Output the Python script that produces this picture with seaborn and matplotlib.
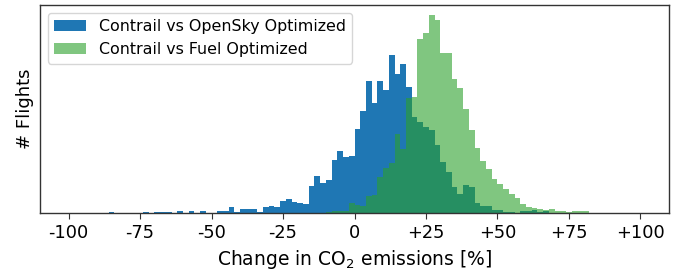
import numpy as np
import pandas as pd
import matplotlib
matplotlib.use("Agg")
import matplotlib.pyplot as plt
from matplotlib.patches import Patch
import seaborn as sns

# ── Data (flights per 2 % bin, bins start at -88 %) ─────────────
BIN_START = -88
BIN_WIDTH = 2

opensky_counts = [
    0, 5, 0, 0, 0, 0, 0, 5, 0, 5,
    5, 5, 0, 10, 0, 10, 0, 10, 2, 2,
    10, 10, 28, 5, 22, 22, 22, 5, 30, 35,
    30, 60, 72, 55, 50, 45, 135, 185, 150, 165,
    265, 310, 280, 285, 420, 510, 660, 550, 660, 615,
    790, 695, 745, 630, 480, 455, 430, 415, 340, 255,
    205, 130, 95, 140, 130, 50, 35, 35, 15, 15,
    5, 5, 2, 10, 10, 15, 5, 8, 2, 0,
    0, 0, 0, 2, 0, 0, 0, 0, 0,
]

fuel_counts = [
    0, 0, 0, 0, 0, 0, 0, 0, 0, 2,
    0, 0, 0, 0, 0, 0, 0, 0, 0, 0,
    0, 0, 0, 0, 0, 0, 0, 0, 0, 0,
    0, 0, 0, 0, 0, 0, 0, 0, 0, 5,
    8, 10, 12, 50, 40, 35, 85, 90, 180, 225,
    250, 395, 320, 575, 580, 870, 900, 990, 965, 800,
    800, 670, 625, 520, 415, 325, 260, 220, 170, 145,
    120, 95, 75, 45, 30, 25, 22, 15, 18, 10,
    8, 5, 10, 8, 10, 2, 0, 0, 2,
]

series_labels = ["Contrail vs OpenSky Optimized", "Contrail vs Fuel Optimized"]
xtick_values = [-100, -75, -50, -25, 0, 25, 50, 75, 100]
xtick_labels = ["-100", "-75", "-50", "-25", "0", "+25", "+50", "+75", "+100"]

BLUE = "#1f77b4"
GREEN = "#2ca02c"

# ── Build table ─────────────────────────────────────────────────
n_bins = len(opensky_counts)
bin_range = (BIN_START, BIN_START + BIN_WIDTH * n_bins)
centers = BIN_START + BIN_WIDTH * (np.arange(n_bins) + 0.5)
df = pd.DataFrame({"change": centers,
                   "opensky": opensky_counts,
                   "fuel": fuel_counts})

# ── Plot ────────────────────────────────────────────────────────
fig = plt.figure(figsize=(6.9, 2.8), dpi=100)
ax = fig.add_axes([40 / 690, 1 - 213 / 280, 629 / 690, 208 / 280])

sns.histplot(data=df, x="change", weights="opensky",
             binwidth=BIN_WIDTH, binrange=bin_range,
             element="step", fill=True, color=BLUE, alpha=1.0,
             linewidth=0, ax=ax)
sns.histplot(data=df, x="change", weights="fuel",
             binwidth=BIN_WIDTH, binrange=bin_range,
             element="step", fill=True, color=GREEN, alpha=0.6,
             linewidth=0, ax=ax)

ax.set_xlim(-110, 110)
ax.set_ylim(0, max(max(opensky_counts), max(fuel_counts)) * 1.05)
ax.set_xticks(xtick_values)
ax.set_xticklabels(xtick_labels)
ax.tick_params(axis="x", labelsize=12.8, length=4.5, color="0.2")
ax.set_yticks([])
ax.set_xlabel("Change in CO$_2$ emissions [%]", fontsize=13.5)
ax.set_ylabel("# Flights", fontsize=13)
for sp in ax.spines.values():
    sp.set_color("0.2")
    sp.set_linewidth(1.0)

handles = [Patch(facecolor=BLUE, alpha=1.0),
           Patch(facecolor=GREEN, alpha=0.6)]
ax.legend(handles, series_labels, loc="upper left", fontsize=11.4)

fig.savefig("out.png", dpi=100)
